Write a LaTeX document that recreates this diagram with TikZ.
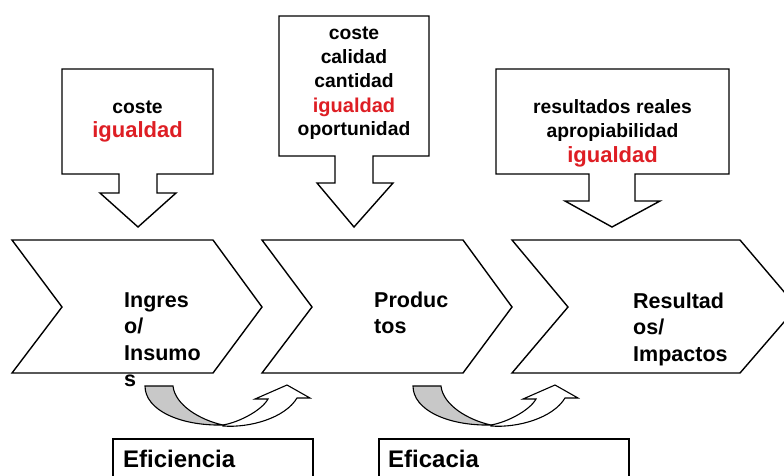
\documentclass[tikz,border=0pt]{standalone}
\usepackage{fontspec}
\setmainfont{Liberation Sans}
\definecolor{eqred}{RGB}{222,30,36}
\definecolor{bandgray}{RGB}{200,200,200}
\begin{document}
\begin{tikzpicture}[x=1pt,y=-1pt,line join=miter,
  blockshape/.style={draw=black,line width=1.4pt,fill=white},
  curvearrow/.style={draw=black,line width=1.1pt},
  boxtxt/.style={font=\bfseries\fontsize{19.3}{24}\selectfont,anchor=base,inner sep=0pt},
  redtxt/.style={font=\bfseries\fontsize{#1}{24}\selectfont,text=eqred,anchor=base,inner sep=0pt},
  chevtxt/.style={font=\bfseries\fontsize{21.5}{26}\selectfont,anchor=base west,inner sep=0pt},
  bottxt/.style={font=\bfseries\fontsize{24}{26}\selectfont,anchor=base west,inner sep=0pt}]
\useasboundingbox (0,0) rectangle (784,475);
% callout boxes
\draw[blockshape] (62,69) -- (213,69) -- (213,174) -- (157,174) -- (157,193) -- (176,193) -- (138,227) -- (100,193) -- (119,193) -- (119,174) -- (62,174) -- cycle;
\draw[blockshape] (279,16) -- (429,16) -- (429,156) -- (373,156) -- (373,183) -- (393,183) -- (354,227) -- (317,183) -- (335,183) -- (335,156) -- (279,156) -- cycle;
\draw[blockshape] (496,69) -- (729,69) -- (729,174) -- (635,174) -- (635,201) -- (660,201) -- (612,227) -- (565,201) -- (589,201) -- (589,174) -- (496,174) -- cycle;
\node[boxtxt] (b1a) at (137.5,113) {coste};
\node[redtxt=22] (b1b) at (137.5,137) {igualdad};
\node[boxtxt] (b2a) at (354,39) {coste};
\node[boxtxt] (b2b) at (354,63) {calidad};
\node[boxtxt] (b2c) at (354,87) {cantidad};
\node[redtxt=20] (b2d) at (354,112) {igualdad};
\node[boxtxt] (b2e) at (354,135) {oportunidad};
\node[boxtxt] (b3a) at (612.5,113) {resultados reales};
\node[boxtxt] (b3b) at (612.5,137) {apropiabilidad};
\node[redtxt=22] (b3c) at (612.5,162) {igualdad};
% chevrons
\draw[blockshape] (12,240) -- (213,240) -- (262,307) -- (213,373) -- (12,373) -- (62,307) -- cycle;
\draw[blockshape] (262,240) -- (463,240) -- (512,307) -- (463,373) -- (262,373) -- (312,307) -- cycle;
\draw[blockshape] (512,240) -- (740,240) -- (797,307) -- (740,373) -- (512,373) -- (568,307) -- cycle;
\node[chevtxt] (c1a) at (124,307) {Ingres};
\node[chevtxt] (c1b) at (124,333) {o/};
\node[chevtxt] (c1c) at (124,360) {Insumo};
\node[chevtxt] (c1d) at (124,386) {s};
\node[chevtxt] (c2a) at (374,307) {Produc};
\node[chevtxt] (c2b) at (374,333) {tos};
\node[chevtxt] (c3a) at (633,308) {Resultad};
\node[chevtxt] (c3b) at (633,334) {os/};
\node[chevtxt] (c3c) at (633,361) {Impactos};
% curved arrows
\foreach \dx in {0,268}{
\begin{scope}[shift={(\dx,0)}]
\draw[curvearrow,fill=bandgray] (145,386) .. controls (145,410) and (180,426) .. (223,425) .. controls (200,420) and (175,405) .. (173,386) -- cycle;
\draw[curvearrow,fill=white] (223,425) .. controls (240,422) and (262,410) .. (268,399) -- (255,399) -- (287,385) -- (310,398) -- (297,398) .. controls (285,418) and (250,428) .. (223,426) -- cycle;
\end{scope}}
% bottom boxes
\draw[line width=1.4pt] (113,490) -- (113,439) -- (313,439) -- (313,490);
\draw[line width=1.4pt] (379,490) -- (379,439) -- (629,439) -- (629,490);
\node[bottxt] (e1) at (123,467) {Eficiencia};
\node[bottxt] (e2) at (388,467) {Eficacia};
\end{tikzpicture}
\end{document}
